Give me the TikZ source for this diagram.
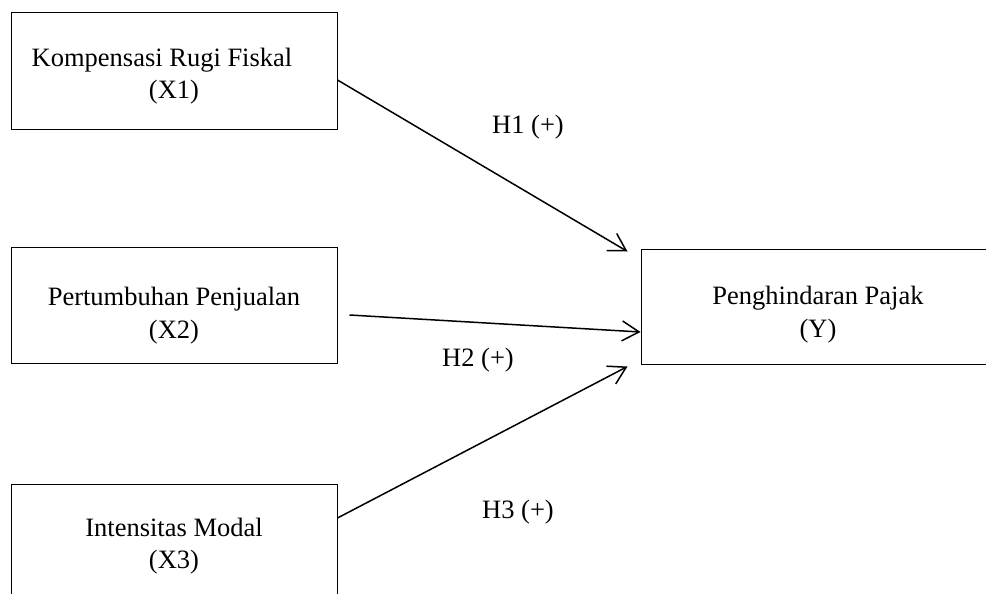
\documentclass[tikz,border=0pt]{standalone}
\usepackage{fontspec}
\setmainfont{Liberation Serif}
\usetikzlibrary{arrows.meta,positioning}

\begin{document}
\begin{tikzpicture}[x=1pt,y=-1pt,
    varbox/.style={draw,line width=1pt,minimum width=326pt,minimum height=116pt,inner sep=0pt},
    vartext/.style={align=center,inner sep=0pt,font=\fontsize{26.5}{32.5}\selectfont},
    hyp/.style={font=\fontsize{26.5}{32.5}\selectfont},
    link/.style={line width=1.5pt,-{Straight Barb[length=17pt,width=20pt]}}]
    \useasboundingbox (0,0) rectangle (986,594);
    \clip (0,0) rectangle (986,594);

    % variabel
    \node[varbox] (x1) at (174,71) {};
    \node[varbox] (x2) at (174,305.5) {};
    \node[varbox] (x3) at (174,542) {};
    \node[varbox,minimum width=354pt,minimum height=115pt] (y) at (818,306.5) {};
    \node[vartext] (t1) at ([yshift=-5pt]x1.center) {Kompensasi Rugi Fiskal\hspace*{24pt}\\(X1)};
    \node[vartext] (t2) at ([yshift=-10pt]x2.center) {Pertumbuhan Penjualan\\(X2)};
    \node[vartext] (t3) at ([yshift=-4pt]x3.center) {Intensitas Modal\\(X3)};
    \node[vartext] (ty) at ([yshift=-8pt]y.center) {Penghindaran Pajak\\(Y)};

    % hipotesis
    \draw[link] ([yshift=-9pt]x1.east) -- ([shift={(-13pt,-3pt)}]y.north west);
    \draw[link] ([shift={(12pt,-9.5pt)}]x2.east) -- ([yshift=-25.5pt]y.west);
    \draw[link] ([yshift=24pt]x3.east) -- ([shift={(-13pt,-2pt)}]y.south west);

    \node[hyp] (h1) at (528,127) {H1 (+)};
    \node[hyp] (h2) at (478,360) {H2 (+)};
    \node[hyp] (h3) at (518,512) {H3 (+)};
\end{tikzpicture}
\end{document}
